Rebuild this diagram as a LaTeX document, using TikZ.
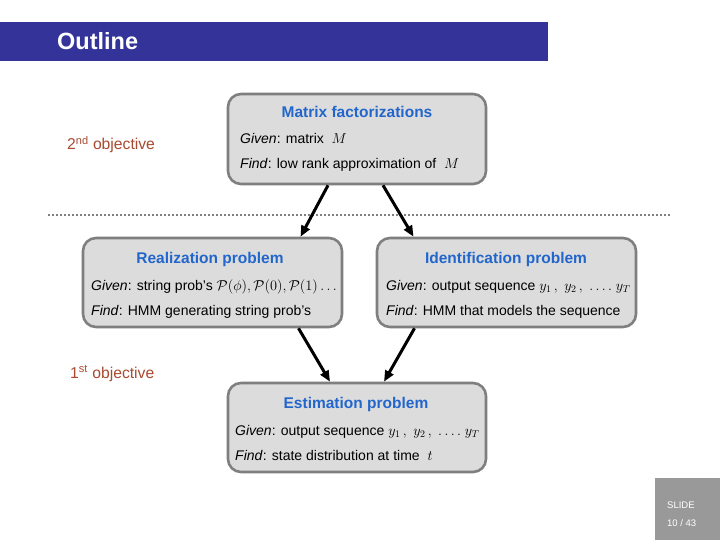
\documentclass[tikz,border=0pt]{standalone}
\usepackage{fontspec}
\setmainfont{Liberation Sans}
\usetikzlibrary{arrows.meta}
\definecolor{barblue}{HTML}{333399}
\definecolor{headblue}{HTML}{2266CC}
\definecolor{boxfill}{HTML}{DCDCDC}
\definecolor{boxline}{HTML}{7F7F7F}
\definecolor{objred}{HTML}{A84A30}
\definecolor{slidegray}{HTML}{999999}
\tikzset{
  probbox/.style={draw=boxline, fill=boxfill, line width=2.6bp, rounded corners=13bp, inner sep=0pt},
  headtxt/.style={anchor=base, inner sep=0pt, text=headblue, font=\fontsize{15.5bp}{18bp}\selectfont\bfseries},
  bodytxt/.style={anchor=base west, inner sep=0pt, font=\fontsize{14bp}{17bp}\selectfont},
  objtxt/.style={anchor=base west, inner sep=0pt, text=objred, font=\fontsize{15.7bp}{18bp}\selectfont},
  flow/.style={line width=3bp, -{Triangle[length=11bp,width=9bp]}},
}
\begin{document}
\begin{tikzpicture}[x=1bp,y=-1bp]
\useasboundingbox (0,0) rectangle (720,540);
\fill[white] (0,0) rectangle (720,540);
% title bar
\node[fill=barblue, minimum width=548bp, minimum height=39bp, inner sep=0pt, anchor=north west] (bar) at (0,22) {};
\node[anchor=base west, inner sep=0pt, text=white, font=\fontsize{23.5bp}{27bp}\selectfont\bfseries] (ttl) at (57,50) {Outline};
% dotted separator
\coordinate (dl) at (48,215);
\coordinate (dr) at (670,215);
\draw[boxline, line width=2.2bp, dash pattern=on 2bp off 2bp] (dl) -- (dr);
% boxes
\node[probbox, minimum width=258bp, minimum height=90bp] (mf) at (357,139) {};
\node[probbox, minimum width=259bp, minimum height=89bp] (real) at (212.5,282.5) {};
\node[probbox, minimum width=259bp, minimum height=89bp] (ident) at (506.5,282.5) {};
\node[probbox, minimum width=258bp, minimum height=89bp] (est) at (357,427.5) {};
% matrix factorizations text
\node[headtxt] (mfT) at (357,118) {Matrix factorizations};
\node[bodytxt] (mfG) at (240,144) {\textit{Given}: matrix \ $M$};
\node[bodytxt] (mfF) at (240,169) {\textit{Find}: low rank approximation of \ $M$};
% realization
\node[headtxt] (realT) at (210,264) {Realization problem};
\node[bodytxt] (realG) at (91,290) {\textit{Given}: string prob's $\mathcal{P}(\phi),\mathcal{P}(0),\mathcal{P}(1)\ldots$};
\node[bodytxt] (realF) at (91,315) {\textit{Find}: HMM generating string prob's};
% identification
\node[headtxt] (identT) at (506,264) {Identification problem};
\node[bodytxt] (identG) at (386,290) {\textit{Given}: output sequence $y_1\,,\; y_2\,,\;\ldots.\; y_T$};
\node[bodytxt] (identF) at (386,315) {\textit{Find}: HMM that models the sequence};
% estimation
\node[headtxt] (estT) at (356,408) {Estimation problem};
\node[bodytxt] (estG) at (235,435) {\textit{Given}: output sequence $y_1\,,\; y_2\,,\;\ldots.\; y_T$};
\node[bodytxt] (estF) at (235,460) {\textit{Find}: state distribution at time \ $t$};
% objectives
\node[objtxt] (obj2) at (67,150) {2\textsuperscript{nd} objective};
\node[objtxt] (obj1) at (70,378) {1\textsuperscript{st} objective};
% arrows
\draw[flow] ([xshift=-29bp]mf.south) -- ([xshift=88bp]real.north);
\draw[flow] ([xshift=26bp]mf.south) -- ([xshift=-93bp]ident.north);
\draw[flow] ([xshift=86bp]real.south) -- ([xshift=-27bp]est.north);
\draw[flow] ([xshift=-92bp]ident.south) -- ([xshift=27bp]est.north);
% slide counter
\node[fill=slidegray, minimum width=65bp, minimum height=62bp, inner sep=0pt, anchor=north west] (slide) at (655,478) {};
\node[anchor=base west, inner sep=0pt, text=white, font=\fontsize{9.5bp}{11bp}\selectfont] (slideA) at (667,508) {SLIDE};
\node[anchor=base west, inner sep=0pt, text=white, font=\fontsize{9.5bp}{11bp}\selectfont] (slideB) at (667,526) {10 / 43};
\end{tikzpicture}
\end{document}
